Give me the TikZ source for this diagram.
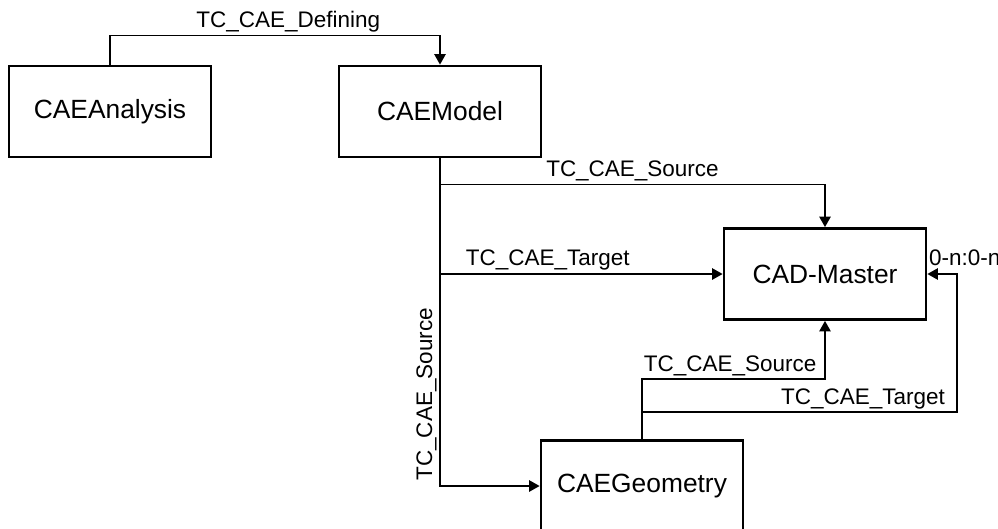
\documentclass[tikz,border=0pt]{standalone}
\usepackage{fontspec}
\setmainfont{Liberation Sans}
\usetikzlibrary{arrows.meta}
\tikzset{
	box/.style={draw, line width=1.6pt, minimum width=4.04cm, minimum height=1.82cm, font=\fontsize{15pt}{18pt}\selectfont},
	conn/.style={line width=0.85pt, -{Triangle[length=6pt, width=6.5pt]}},
	lbl/.style={font=\fontsize{12.8pt}{15pt}\selectfont, inner sep=1.5pt}
}
\begin{document}
\begin{tikzpicture}[x=0.02cm,y=-0.02cm]
		\useasboundingbox (0,0) rectangle (998,528);
		\clip (0,0) rectangle (998,528);
		\node[box] (analysis) at (110,111.5) {CAEAnalysis};
		\node[box] (model) at (440,111.5) {CAEModel};
		\node[box] (master) at (825,274) {CAD-Master};
		\node[box] (geometry) at (642,486) {CAEGeometry};
		\draw[conn] (analysis.north) -- ++(0,-29) -| node[lbl, pos=0.27, above]{TC\_CAE\_Defining} (model.north);
		\draw[conn] (model.south) ++(0,26) -| node[lbl, pos=0.25, above]{TC\_CAE\_Source} (master.north);
		\draw[conn] (model.south |- master.west) -- node[lbl, pos=0.08, above right]{TC\_CAE\_Target} (master.west);
		\draw[conn] (model.south) |- node[lbl, pos=0.36, rotate=90, above]{TC\_CAE\_Source} (geometry.west);
		\draw[conn] (geometry.north) -- ++(0,-60) -| node[lbl, pos=0.5, anchor=south east, xshift=-3pt]{TC\_CAE\_Source} (master.south);
		\draw[conn] (geometry.north) ++(0,-27) -- ++(315,0) node[lbl, anchor=south east, xshift=-5pt]{TC\_CAE\_Target} |- (master.east) node[lbl, anchor=south west, inner sep=0.5pt, yshift=4pt]{0-n:0-n};
	\end{tikzpicture}
\end{document}
